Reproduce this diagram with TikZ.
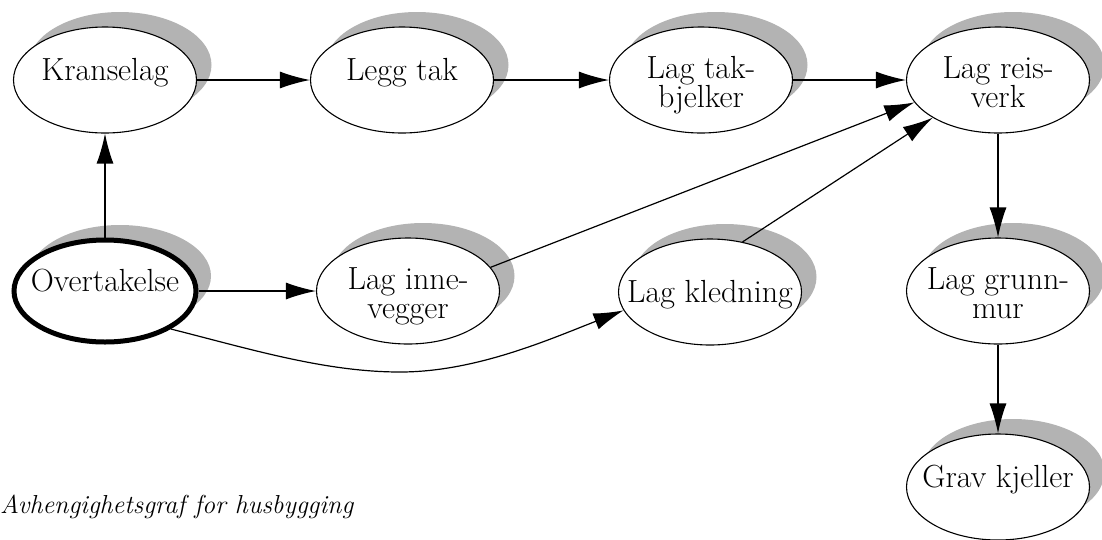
\documentclass[tikz,border=0pt]{standalone}
\usetikzlibrary{shapes.geometric,shadows,arrows.meta}
\definecolor{shadowgray}{HTML}{B3B3B3}
\begin{document}
\begin{tikzpicture}[x=1pt,y=-1pt,
  task/.style={ellipse, draw, line width=1.1pt, fill=white,
    minimum width=183pt, minimum height=106pt, inner ysep=0pt, inner xsep=-30pt,
    font=\fontsize{32}{29}\selectfont,
    drop shadow={shadow xshift=15pt, shadow yshift=15pt, fill=shadowgray, opacity=1}},
  oneline/.style={text height=10pt, text depth=10pt},
  twoline/.style={align=center, text height=60pt, text depth=6pt},
  start/.style={line width=5pt, minimum width=182pt, minimum height=102pt},
  dep/.style={line width=1.2pt, -{Latex[length=30pt,width=17pt]}},
  caption/.style={font=\fontsize{26}{30}\selectfont\itshape, inner sep=0pt}]
\useasboundingbox (0,0) rectangle (1102,539);

% tasks
\node[task, oneline] (kr) at (105,80) {Kranselag};
\node[task, oneline] (lt) at (402,80) {Legg tak};
\node[task, twoline] (tb) at (701,80) {Lag tak-\\bjelker};
\node[task, twoline] (rv) at (998,80) {Lag reis-\\verk};
\node[task, start, oneline] (ov) at (105,291) {Overtakelse};
\node[task, twoline] (iv) at (408,291) {Lag inne-\\vegger};
\node[task, text height=20pt, text depth=0pt] (kl) at (710,292) {Lag kledning};
\node[task, twoline] (gm) at (998,291) {Lag grunn-\\mur};
\node[task, oneline] (gk) at (998,487) {Grav kjeller};

% dependencies
\draw[dep] (kr) -- (lt);
\draw[dep] (lt) -- (tb);
\draw[dep] (tb) -- (rv);
\draw[dep] (ov) -- (kr);
\draw[dep] (ov) -- (iv);
\draw[dep] (iv.16) -- (rv.195);
\draw[dep] (kl.57) -- (rv.210);
\draw[dep] (ov.-30) .. controls (250,349) and (325,372) .. (400,372)
                    .. controls (475,372) and (548,340) .. (kl.192);
\draw[dep] (rv) -- (gm);
\draw[dep] (gm) -- (gk);

\node[caption, anchor=base west] (cap) at (0,513) {Avhengighetsgraf for husbygging};
\end{tikzpicture}
\end{document}
